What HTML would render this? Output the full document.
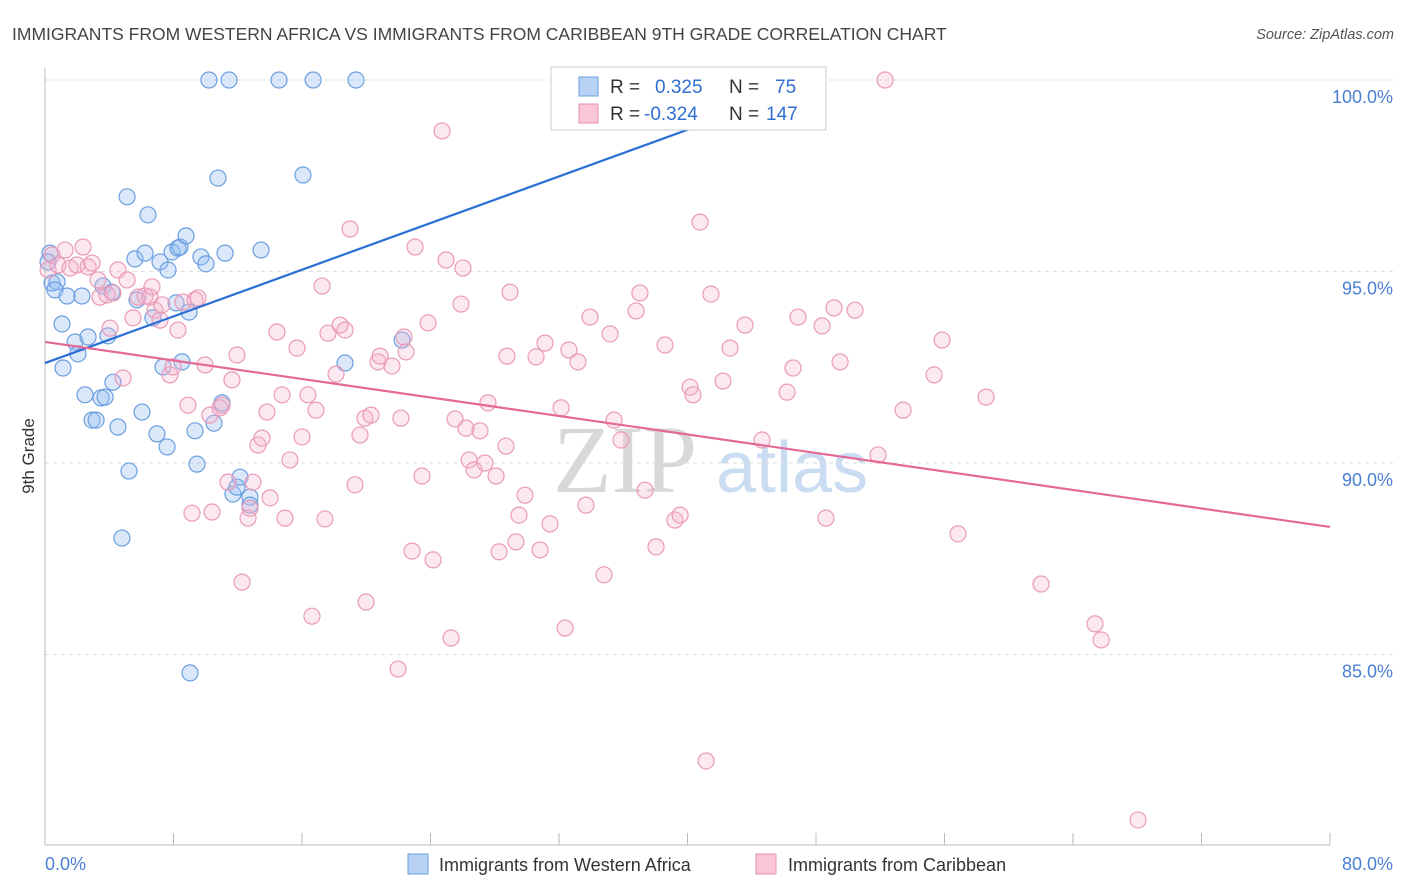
<!DOCTYPE html>
<html><head><meta charset="utf-8"><style>
body{margin:0;background:#fff;font-family:"Liberation Sans",sans-serif;}
svg{display:block}
</style></head><body>
<svg id="chart" width="1406" height="892" xmlns="http://www.w3.org/2000/svg">
<text x="12" y="40" font-size="17.5" fill="#444">IMMIGRANTS FROM WESTERN AFRICA VS IMMIGRANTS FROM CARIBBEAN 9TH GRADE CORRELATION CHART</text>
<text x="1394" y="39" font-size="14.5" fill="#555" font-style="italic" text-anchor="end">Source: ZipAtlas.com</text>
<g>
<text x="553" y="492" font-size="96" font-family="Liberation Serif,serif" fill="#d8d8d8">ZIP</text>
<text x="716" y="492" font-size="72" fill="#c9dcf2">atlas</text>
</g>
<g id="grid"></g>
<g id="axes"></g>
<g id="pts"></g>
<g id="lines"></g>
<g>
<rect x="551" y="67" width="275" height="63" fill="#fff" stroke="#ccc"/>
<rect x="579" y="77" width="19" height="19" fill="#b8d2f4" stroke="#6a9fe0"/>
<text x="610" y="93" font-size="19" fill="#333">R = <tspan x="655" fill="#2f6fd0">0.325</tspan><tspan x="729" fill="#333">N =</tspan><tspan x="775" fill="#2f6fd0">75</tspan></text>
<rect x="579" y="104" width="19" height="19" fill="#f8c6d6" stroke="#e890b0"/>
<text x="610" y="120" font-size="19" fill="#333">R = <tspan x="644" fill="#2f6fd0">-0.324</tspan><tspan x="729" fill="#333">N =</tspan><tspan x="766" fill="#2f6fd0">147</tspan></text>
</g>
<text x="45" y="870" font-size="18" fill="#4a7fd4">0.0%</text>
<text x="1393" y="870" font-size="18" fill="#4a7fd4" text-anchor="end">80.0%</text>
<text transform="translate(34,456) rotate(-90)" font-size="17" fill="#333" text-anchor="middle">9th Grade</text>
<g>
<rect x="408" y="854" width="20" height="20" fill="#b8d2f4" stroke="#6a9fe0"/>
<text x="439" y="871" font-size="18" fill="#333">Immigrants from Western Africa</text>
<rect x="756" y="854" width="20" height="20" fill="#f8c6d6" stroke="#e890b0"/>
<text x="788" y="871" font-size="18" fill="#333">Immigrants from Caribbean</text>
</g>
</svg>
<script>
const yTicks=[100,95,90,85];
const yTickLabels=["100.0%","95.0%","90.0%","85.0%"];
const xTicks=[0,8,16,24,32,40,48,56,64,72,80];
const blueX=[0.31,0.19,0.44,0.75,0.62,1.06,1.12,1.37,1.87,2.05,2.30,2.68,2.49,2.93,3.18,3.49,3.74,3.61,3.92,4.17,4.23,4.54,4.79,5.11,5.23,5.60,5.73,6.04,6.23,6.41,6.72,6.97,7.16,7.35,7.60,7.66,7.91,8.16,8.28,8.41,8.53,8.78,8.97,9.03,9.34,9.46,9.71,10.02,10.52,10.77,11.21,11.02,11.70,11.95,12.14,12.76,12.76,13.45,16.06,18.68,22.23,10.21,11.46,14.57,16.69,19.36];
const blueY=[95.48,95.25,94.70,94.73,94.52,93.63,92.48,94.36,93.16,92.85,94.36,93.29,91.78,91.12,91.12,91.70,91.72,94.62,93.32,94.46,92.11,90.94,88.04,96.95,89.79,95.33,94.26,91.33,95.48,96.48,93.79,90.76,95.25,92.51,90.42,95.04,95.51,94.18,95.61,95.64,92.64,95.93,93.94,84.52,90.84,89.97,95.38,95.20,91.04,97.44,95.48,91.57,89.19,89.37,89.63,89.11,88.90,95.56,97.52,92.61,93.21,100,100,100,100,100];
const pinkX=[0.19,0.44,0.81,1.25,1.56,1.99,2.37,2.68,2.93,3.30,3.42,3.86,4.05,4.23,4.54,4.86,5.11,5.48,5.79,6.23,6.54,6.66,6.85,7.16,7.28,7.78,7.97,8.28,8.59,8.90,9.15,9.34,9.53,9.96,10.27,10.40,10.90,11.02,11.39,11.64,11.95,12.27,12.64,12.76,12.95,13.26,13.51,13.82,14.01,14.44,14.76,14.94,15.25,15.69,16.00,16.37,16.62,16.87,17.25,17.43,17.62,18.12,18.37,18.68,18.99,19.30,19.61,19.92,19.99,20.30,20.73,20.86,21.60,21.98,22.16,22.35,22.48,22.85,23.04,23.47,23.85,24.16,24.72,24.97,25.28,25.53,25.90,26.02,26.21,26.40,26.71,27.08,27.39,27.58,28.08,28.27,28.70,28.76,28.95,29.32,29.51,29.88,30.57,30.82,31.13,31.44,32.13,32.38,32.62,33.18,33.68,33.93,34.80,35.18,35.43,35.86,36.80,37.04,37.36,38.04,38.60,39.22,39.54,40.16,40.34,40.78,41.16,41.46,42.21,42.65,43.58,44.64,46.20,46.57,46.88,48.62,48.38,49.12,49.50,50.43,51.86,52.30,53.42,55.35,55.85,56.84,58.59,62.01,65.37,65.75,68.05];
const pinkY=[95.04,95.43,95.17,95.56,95.09,95.17,95.64,95.12,95.22,94.78,94.33,94.39,93.52,94.44,95.04,92.22,94.78,93.79,94.33,94.36,94.33,94.60,93.99,93.73,94.13,92.30,92.51,93.47,94.20,91.51,88.69,94.26,94.31,92.56,91.25,88.72,91.44,91.51,89.50,92.17,92.82,86.89,88.56,88.82,89.50,90.47,90.65,91.33,89.09,93.42,91.78,88.56,90.08,93.00,90.68,91.78,86.00,91.38,94.62,88.54,93.39,92.32,93.60,93.47,96.11,89.43,90.73,91.17,86.37,91.25,92.64,92.79,92.53,84.62,91.17,93.29,92.90,87.70,95.64,89.66,93.66,87.47,98.67,95.30,85.43,91.15,94.15,95.09,90.91,90.08,89.82,90.84,90.00,91.57,89.66,87.68,90.44,92.79,94.46,87.94,88.64,89.16,92.77,87.73,93.13,88.41,91.44,85.69,92.95,92.64,88.90,93.81,87.08,93.37,91.12,90.60,93.97,94.44,89.29,87.81,93.08,88.51,88.64,91.98,91.78,96.29,82.22,94.41,92.14,93.00,93.60,90.60,91.85,92.48,93.81,88.56,93.58,94.05,92.64,93.99,90.21,100,91.38,92.30,93.21,88.15,91.72,86.84,85.80,85.38,80.68];
const blueLineX=[0,48.4];
const blueLineY=[92.61,99.98];
const pinkLineX=[0,80];
const pinkLineY=[93.16,88.33];
const NS="http://www.w3.org/2000/svg";
function sx(v){return 45+v*16.0625;}
function sy(v){return 80+(100-v)*38.3;}
function mk(tag,attrs,parent){const e=document.createElementNS(NS,tag);for(const k in attrs)e.setAttribute(k,attrs[k]);parent.appendChild(e);return e;}
const grid=document.getElementById('grid'),axes=document.getElementById('axes'),pts=document.getElementById('pts'),lines=document.getElementById('lines');
yTicks.forEach((t,i)=>{
 const l=mk('line',{x1:45,x2:1393,y1:sy(t),y2:sy(t),stroke:'#ddd','stroke-dasharray':'4,4'},grid);
 
 
 const tx=mk('text',{x:1393,y:sy(t)+23,'font-size':18,fill:'#4a7fd4','text-anchor':'end'},axes);
 tx.textContent=yTickLabels[i];
 
 
});
const ya=mk('line',{x1:45,x2:45,y1:68,y2:845,stroke:'#bbb'},axes);


const xa=mk('line',{x1:45,x2:1330,y1:845,y2:845,stroke:'#bbb'},axes);


xTicks.forEach(t=>{
 const l=mk('line',{x1:sx(t),x2:sx(t),y1:833,y2:845,stroke:'#bbb'},axes);
 
 
});
blueX.forEach((v,i)=>{
 const c=mk('circle',{cx:sx(v),cy:sy(blueY[i]),r:8,fill:'rgba(150,190,240,0.35)',stroke:'#6a9fe0','stroke-width':1.2},pts);
 
 
});
pinkX.forEach((v,i)=>{
 const c=mk('circle',{cx:sx(v),cy:sy(pinkY[i]),r:8,fill:'rgba(244,180,204,0.3)',stroke:'#ea9ab8','stroke-width':1.2},pts);
 
 
});
const bl=mk('line',{x1:sx(blueLineX[0]),y1:sy(blueLineY[0]),x2:sx(blueLineX[1]),y2:sy(blueLineY[1]),stroke:'#2a6fd6','stroke-width':2.2},lines);


const pl=mk('line',{x1:sx(pinkLineX[0]),y1:sy(pinkLineY[0]),x2:sx(pinkLineX[1]),y2:sy(pinkLineY[1]),stroke:'#e46a95','stroke-width':2.2},lines);


</script>
</body></html>
